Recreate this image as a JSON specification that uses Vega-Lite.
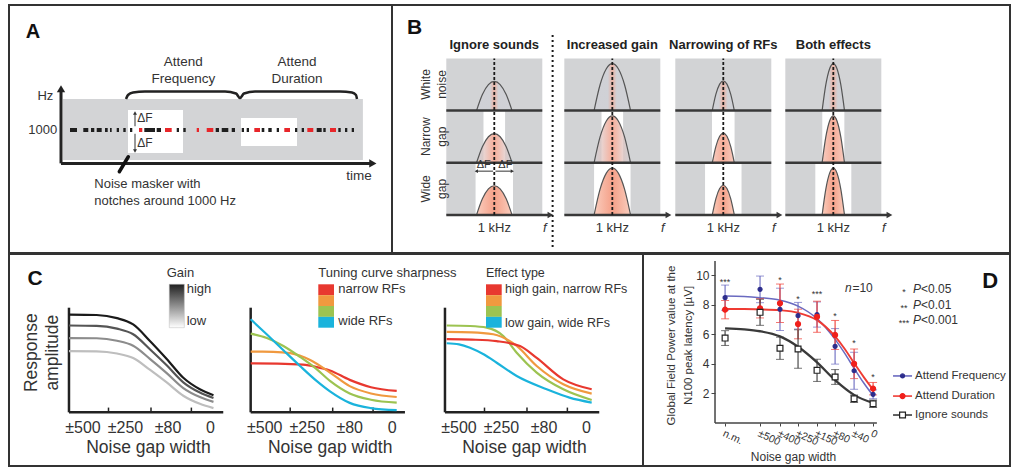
{
"$schema":"https://vega.github.io/schema/vega-lite/v6.json",
"padding":{"left":8,"top":4,"right":0,"bottom":1},
"background":"#ffffff",
"config":{"font":"Liberation Sans","view":{"stroke":"#333333","strokeWidth":2},"text":{"color":"#333333"}},
"datasets":{
"aRects":[{"k":"bg","t":14.1,"t2":92.4,"f":760,"f2":1248},{"k":"notch","t":31.07,"t2":45.43,"f":816,"f2":1160},{"k":"notch","t":60.57,"t2":75.2,"f":872,"f2":1096}],
"tones":[{"t":13.32,"t2":13.84,"f":1000,"k":"b"},{"t":15.93,"t2":17.75,"f":1000,"k":"b"},{"t":19.4,"t2":20.7,"f":1000,"k":"b"},{"t":21.41,"t2":22.27,"f":1000,"k":"b"},{"t":22.9,"t2":24.2,"f":1000,"k":"b"},{"t":25.07,"t2":25.77,"f":1000,"k":"b"},{"t":26.37,"t2":26.81,"f":1000,"k":"b"},{"t":28.12,"t2":28.72,"f":1000,"k":"b"},{"t":29.84,"t2":30.47,"f":1000,"k":"b"},{"t":31.59,"t2":32.19,"f":1000,"k":"b"},{"t":33.94,"t2":34.8,"f":1000,"k":"r"},{"t":35.33,"t2":38.12,"f":1000,"k":"b"},{"t":38.56,"t2":39.69,"f":1000,"k":"b"},{"t":40.73,"t2":42.48,"f":1000,"k":"r"},{"t":43.79,"t2":44.39,"f":1000,"k":"b"},{"t":45.51,"t2":46.14,"f":1000,"k":"b"},{"t":49.01,"t2":49.61,"f":1000,"k":"r"},{"t":51.62,"t2":53.34,"f":1000,"k":"r"},{"t":53.97,"t2":54.83,"f":1000,"k":"b"},{"t":55.54,"t2":57.26,"f":1000,"k":"b"},{"t":58.15,"t2":59.01,"f":1000,"k":"b"},{"t":60.76,"t2":61.36,"f":1000,"k":"b"},{"t":62.06,"t2":62.66,"f":1000,"k":"b"},{"t":64.05,"t2":65.54,"f":1000,"k":"r"},{"t":65.98,"t2":66.66,"f":1000,"k":"b"},{"t":67.7,"t2":68.59,"f":1000,"k":"b"},{"t":69.9,"t2":70.5,"f":1000,"k":"b"},{"t":71.88,"t2":73.37,"f":1000,"k":"r"},{"t":74.67,"t2":75.27,"f":1000,"k":"b"},{"t":76.42,"t2":77.02,"f":1000,"k":"b"},{"t":77.89,"t2":79.45,"f":1000,"k":"r"},{"t":80.34,"t2":81.64,"f":1000,"k":"b"},{"t":82.06,"t2":82.69,"f":1000,"k":"b"},{"t":83.81,"t2":85.38,"f":1000,"k":"r"},{"t":85.98,"t2":86.61,"f":1000,"k":"b"},{"t":87.73,"t2":88.33,"f":1000,"k":"b"},{"t":89.48,"t2":90.08,"f":1000,"k":"b"}],
"brace":[{"t":30.55,"f":1248},{"t":31.07,"f":1280},{"t":32.38,"f":1300},{"t":35.5,"f":1308},{"t":56.4,"f":1308},{"t":59.27,"f":1292},{"t":60.31,"f":1256},{"t":61.36,"f":1292},{"t":64.23,"f":1308},{"t":86.42,"f":1308},{"t":89.56,"f":1300},{"t":90.6,"f":1280},{"t":90.86,"f":1248}],
"aLines":[{"kind":"axis","t":13.58,"t2":13.58,"f":733,"f2":1325},{"kind":"axis","t":13.58,"t2":94.3,"f":733,"f2":733},{"kind":"df","t":32.9,"t2":32.9,"f":1030,"f2":1136},{"kind":"df","t":32.9,"t2":32.9,"f":832,"f2":970},{"kind":"pointer","t":28.8,"t2":31.15,"f":666,"f2":786}],
"aHeads":[{"kind":"up","t":13.58,"f":1330},{"kind":"right","t":95.0,"f":733},{"kind":"dfup","t":32.9,"f":1136},{"kind":"dfdown","t":32.9,"f":832}],
"aText":[{"grp":"left","t":22.27,"f":568,"label":"Noise masker with"},{"grp":"left","t":22.27,"f":432,"label":"notches around 1000 Hz"},{"grp":"center","t":45.51,"f":1542,"label":"Attend"},{"grp":"center","t":45.51,"f":1408,"label":"Frequency"},{"grp":"center","t":75.2,"f":1542,"label":"Attend"},{"grp":"center","t":75.2,"f":1408,"label":"Duration"},{"grp":"center","t":91.38,"f":634,"label":"time"},{"grp":"right","t":11.57,"f":1272,"label":"Hz"},{"grp":"right","t":12.61,"f":1000,"label":"1000"},{"grp":"df","t":33.5,"f":1100,"label":"ΔF"},{"grp":"df","t":33.5,"f":896,"label":"ΔF"},{"grp":"letter","t":6.27,"f":1786,"label":"A"}],
"bRects":[{"col":"ign","k":"bg","f":0,"f2":2,"v":0,"v2":3},{"col":"ign","k":"notch","f":0.775,"f2":1.225,"v":1,"v2":2},{"col":"ign","k":"notch","f":0.61,"f2":1.39,"v":0,"v2":1},{"col":"gain","k":"bg","f":0,"f2":2,"v":0,"v2":3},{"col":"gain","k":"notch","f":0.775,"f2":1.225,"v":1,"v2":2},{"col":"gain","k":"notch","f":0.62,"f2":1.38,"v":0,"v2":1},{"col":"nrf","k":"bg","f":0,"f2":2,"v":0,"v2":3},{"col":"nrf","k":"notch","f":0.765,"f2":1.235,"v":1,"v2":2},{"col":"nrf","k":"notch","f":0.62,"f2":1.38,"v":0,"v2":1},{"col":"both","k":"bg","f":0,"f2":2,"v":0,"v2":3},{"col":"both","k":"notch","f":0.77,"f2":1.23,"v":1,"v2":2},{"col":"both","k":"notch","f":0.625,"f2":1.375,"v":0,"v2":1}],
"bCurves":[
{"col":"ign","row":"white","f":0.63,"v":2},{"col":"ign","row":"white","f":0.752,"v":2.309},{"col":"ign","row":"white","f":0.878,"v":2.499},{"col":"ign","row":"white","f":1.0,"v":2.56},{"col":"ign","row":"white","f":1.122,"v":2.499},{"col":"ign","row":"white","f":1.248,"v":2.309},{"col":"ign","row":"white","f":1.37,"v":2},
{"col":"ign","row":"narrow","f":0.63,"v":1},{"col":"ign","row":"narrow","f":0.752,"v":1.309},{"col":"ign","row":"narrow","f":0.878,"v":1.499},{"col":"ign","row":"narrow","f":1.0,"v":1.56},{"col":"ign","row":"narrow","f":1.122,"v":1.499},{"col":"ign","row":"narrow","f":1.248,"v":1.309},{"col":"ign","row":"narrow","f":1.37,"v":1},
{"col":"ign","row":"wide","f":0.63,"v":0},{"col":"ign","row":"wide","f":0.752,"v":0.309},{"col":"ign","row":"wide","f":0.878,"v":0.499},{"col":"ign","row":"wide","f":1.0,"v":0.56},{"col":"ign","row":"wide","f":1.122,"v":0.499},{"col":"ign","row":"wide","f":1.248,"v":0.309},{"col":"ign","row":"wide","f":1.37,"v":0},
{"col":"gain","row":"white","f":0.62,"v":2},{"col":"gain","row":"white","f":0.745,"v":2.496},{"col":"gain","row":"white","f":0.875,"v":2.802},{"col":"gain","row":"white","f":1.0,"v":2.9},{"col":"gain","row":"white","f":1.125,"v":2.802},{"col":"gain","row":"white","f":1.255,"v":2.496},{"col":"gain","row":"white","f":1.38,"v":2},
{"col":"gain","row":"narrow","f":0.62,"v":1},{"col":"gain","row":"narrow","f":0.745,"v":1.496},{"col":"gain","row":"narrow","f":0.875,"v":1.802},{"col":"gain","row":"narrow","f":1.0,"v":1.9},{"col":"gain","row":"narrow","f":1.125,"v":1.802},{"col":"gain","row":"narrow","f":1.255,"v":1.496},{"col":"gain","row":"narrow","f":1.38,"v":1},
{"col":"gain","row":"wide","f":0.62,"v":0},{"col":"gain","row":"wide","f":0.745,"v":0.496},{"col":"gain","row":"wide","f":0.875,"v":0.802},{"col":"gain","row":"wide","f":1.0,"v":0.9},{"col":"gain","row":"wide","f":1.125,"v":0.802},{"col":"gain","row":"wide","f":1.255,"v":0.496},{"col":"gain","row":"wide","f":1.38,"v":0},
{"col":"nrf","row":"white","f":0.77,"v":2},{"col":"nrf","row":"white","f":0.846,"v":2.314},{"col":"nrf","row":"white","f":0.924,"v":2.508},{"col":"nrf","row":"white","f":1.0,"v":2.57},{"col":"nrf","row":"white","f":1.076,"v":2.508},{"col":"nrf","row":"white","f":1.154,"v":2.314},{"col":"nrf","row":"white","f":1.23,"v":2},
{"col":"nrf","row":"narrow","f":0.77,"v":1},{"col":"nrf","row":"narrow","f":0.846,"v":1.314},{"col":"nrf","row":"narrow","f":0.924,"v":1.508},{"col":"nrf","row":"narrow","f":1.0,"v":1.57},{"col":"nrf","row":"narrow","f":1.076,"v":1.508},{"col":"nrf","row":"narrow","f":1.154,"v":1.314},{"col":"nrf","row":"narrow","f":1.23,"v":1},
{"col":"nrf","row":"wide","f":0.77,"v":0},{"col":"nrf","row":"wide","f":0.846,"v":0.314},{"col":"nrf","row":"wide","f":0.924,"v":0.508},{"col":"nrf","row":"wide","f":1.0,"v":0.57},{"col":"nrf","row":"wide","f":1.076,"v":0.508},{"col":"nrf","row":"wide","f":1.154,"v":0.314},{"col":"nrf","row":"wide","f":1.23,"v":0},
{"col":"both","row":"white","f":0.767,"v":2},{"col":"both","row":"white","f":0.844,"v":2.496},{"col":"both","row":"white","f":0.923,"v":2.802},{"col":"both","row":"white","f":1.0,"v":2.9},{"col":"both","row":"white","f":1.077,"v":2.802},{"col":"both","row":"white","f":1.156,"v":2.496},{"col":"both","row":"white","f":1.233,"v":2},
{"col":"both","row":"narrow","f":0.767,"v":1},{"col":"both","row":"narrow","f":0.844,"v":1.496},{"col":"both","row":"narrow","f":0.923,"v":1.802},{"col":"both","row":"narrow","f":1.0,"v":1.9},{"col":"both","row":"narrow","f":1.077,"v":1.802},{"col":"both","row":"narrow","f":1.156,"v":1.496},{"col":"both","row":"narrow","f":1.233,"v":1},
{"col":"both","row":"wide","f":0.767,"v":0},{"col":"both","row":"wide","f":0.844,"v":0.496},{"col":"both","row":"wide","f":0.923,"v":0.802},{"col":"both","row":"wide","f":1.0,"v":0.9},{"col":"both","row":"wide","f":1.077,"v":0.802},{"col":"both","row":"wide","f":1.156,"v":0.496},{"col":"both","row":"wide","f":1.233,"v":0}],
"bLines":[{"f":0,"f2":2,"v":1},{"f":0,"f2":2,"v":2},{"f":0,"f2":2.12,"v":0}],
"bArrow":[{"f":2.17,"v":0}],
"bCenter":[{"f":1,"v":0,"v2":3}],
"bSep":[{"f":2.215,"v":-0.613,"v2":3.487}],
"bDF":[{"f":0.63,"f2":0.975,"v":0.84},{"f":1.025,"f2":1.37,"v":0.84}],
"bDFHeads":[{"k":"l","f":0.625,"v":0.84},{"k":"r","f":1.375,"v":0.84}],
"bText":[{"col":"ign","kind":"title","f":1,"v":3.25,"label":"Ignore sounds"},{"col":"gain","kind":"title","f":1,"v":3.25,"label":"Increased gain"},{"col":"nrf","kind":"title","f":1,"v":3.25,"label":"Narrowing of RFs"},{"col":"both","kind":"title","f":1,"v":3.25,"label":"Both effects"},{"col":"all","kind":"khz","f":1,"v":-0.25,"label":"1 kHz"},{"col":"all","kind":"fl","f":2.05,"v":-0.25,"label":"f"},{"col":"ign","kind":"letter","f":-0.66,"v":3.58,"label":"B"},{"col":"ign","kind":"rowlab","f":-0.423,"v":2.5,"label":["White","noise"]},{"col":"ign","kind":"rowlab","f":-0.423,"v":1.5,"label":["Narrow","gap"]},{"col":"ign","kind":"rowlab","f":-0.423,"v":0.5,"label":["Wide","gap"]},{"col":"ign","kind":"df","f":0.78,"v":0.96,"label":"ΔF"},{"col":"ign","kind":"df","f":1.23,"v":0.96,"label":"ΔF"}],
"cAxes":[{"kind":"ax","g":-0.33,"g2":-0.33,"a":0,"a2":1.0},{"kind":"ax","g":-0.33,"g2":3.3,"a":0,"a2":0},{"kind":"tk","g":0.6,"g2":0.6,"a":0,"a2":0.045},{"kind":"tk","g":1.6,"g2":1.6,"a":0,"a2":0.045},{"kind":"tk","g":2.55,"g2":2.55,"a":0,"a2":0.045}],
"cLabels":[{"kind":"tick","g":0,"a":-0.147,"label":"±500"},{"kind":"tick","g":1,"a":-0.147,"label":"±250"},{"kind":"tick","g":2,"a":-0.147,"label":"±80"},{"kind":"tick","g":3,"a":-0.147,"label":"0"},{"kind":"title","g":1.54,"a":-0.338,"label":"Noise gap width"}],
"cCurves":[
{"p":"S1","c":"g1","g":-0.33,"a":0.933},{"p":"S1","c":"g1","g":0.32,"a":0.93},{"p":"S1","c":"g1","g":0.8,"a":0.9},{"p":"S1","c":"g1","g":1.18,"a":0.84},{"p":"S1","c":"g1","g":1.58,"a":0.68},{"p":"S1","c":"g1","g":1.97,"a":0.51},{"p":"S1","c":"g1","g":2.36,"a":0.33},{"p":"S1","c":"g1","g":2.75,"a":0.22},{"p":"S1","c":"g1","g":3.07,"a":0.163},
{"p":"S1","c":"g2","g":-0.33,"a":0.83},{"p":"S1","c":"g2","g":0.32,"a":0.827},{"p":"S1","c":"g2","g":0.8,"a":0.8},{"p":"S1","c":"g2","g":1.18,"a":0.746},{"p":"S1","c":"g2","g":1.58,"a":0.601},{"p":"S1","c":"g2","g":1.97,"a":0.449},{"p":"S1","c":"g2","g":2.36,"a":0.287},{"p":"S1","c":"g2","g":2.75,"a":0.189},{"p":"S1","c":"g2","g":3.07,"a":0.137},
{"p":"S1","c":"g3","g":-0.33,"a":0.71},{"p":"S1","c":"g3","g":0.32,"a":0.708},{"p":"S1","c":"g3","g":0.8,"a":0.684},{"p":"S1","c":"g3","g":1.18,"a":0.636},{"p":"S1","c":"g3","g":1.58,"a":0.509},{"p":"S1","c":"g3","g":1.97,"a":0.375},{"p":"S1","c":"g3","g":2.36,"a":0.232},{"p":"S1","c":"g3","g":2.75,"a":0.146},{"p":"S1","c":"g3","g":3.07,"a":0.1},
{"p":"S1","c":"g4","g":-0.33,"a":0.585},{"p":"S1","c":"g4","g":0.32,"a":0.583},{"p":"S1","c":"g4","g":0.8,"a":0.562},{"p":"S1","c":"g4","g":1.18,"a":0.519},{"p":"S1","c":"g4","g":1.58,"a":0.405},{"p":"S1","c":"g4","g":1.97,"a":0.285},{"p":"S1","c":"g4","g":2.36,"a":0.158},{"p":"S1","c":"g4","g":2.75,"a":0.081},{"p":"S1","c":"g4","g":3.07,"a":0.04},
{"p":"S2","c":"red","g":-0.33,"a":0.468},{"p":"S2","c":"red","g":0.3,"a":0.466},{"p":"S2","c":"red","g":0.9,"a":0.455},{"p":"S2","c":"red","g":1.2,"a":0.435},{"p":"S2","c":"red","g":1.536,"a":0.4},{"p":"S2","c":"red","g":2.0,"a":0.31},{"p":"S2","c":"red","g":2.5,"a":0.24},{"p":"S2","c":"red","g":3.106,"a":0.204},
{"p":"S2","c":"orange","g":-0.33,"a":0.58},{"p":"S2","c":"orange","g":0.2,"a":0.578},{"p":"S2","c":"orange","g":0.6,"a":0.565},{"p":"S2","c":"orange","g":1.07,"a":0.5},{"p":"S2","c":"orange","g":1.536,"a":0.38},{"p":"S2","c":"orange","g":2.0,"a":0.25},{"p":"S2","c":"orange","g":2.5,"a":0.18},{"p":"S2","c":"orange","g":3.106,"a":0.146},
{"p":"S2","c":"green","g":-0.33,"a":0.752},{"p":"S2","c":"green","g":0.05,"a":0.71},{"p":"S2","c":"green","g":0.44,"a":0.634},{"p":"S2","c":"green","g":0.83,"a":0.53},{"p":"S2","c":"green","g":1.2,"a":0.42},{"p":"S2","c":"green","g":1.536,"a":0.3},{"p":"S2","c":"green","g":2.0,"a":0.18},{"p":"S2","c":"green","g":2.5,"a":0.12},{"p":"S2","c":"green","g":3.106,"a":0.092},
{"p":"S2","c":"cyan","g":-0.33,"a":0.889},{"p":"S2","c":"cyan","g":0.047,"a":0.746},{"p":"S2","c":"cyan","g":0.44,"a":0.593},{"p":"S2","c":"cyan","g":0.83,"a":0.443},{"p":"S2","c":"cyan","g":1.22,"a":0.3},{"p":"S2","c":"cyan","g":1.536,"a":0.2},{"p":"S2","c":"cyan","g":2.0,"a":0.09},{"p":"S2","c":"cyan","g":2.5,"a":0.04},{"p":"S2","c":"cyan","g":3.106,"a":0.02},
{"p":"S3","c":"cyan","g":-0.29,"a":0.66},{"p":"S3","c":"cyan","g":0.0,"a":0.65},{"p":"S3","c":"cyan","g":0.259,"a":0.618},{"p":"S3","c":"cyan","g":0.6,"a":0.55},{"p":"S3","c":"cyan","g":0.887,"a":0.474},{"p":"S3","c":"cyan","g":1.358,"a":0.347},{"p":"S3","c":"cyan","g":2.064,"a":0.22},{"p":"S3","c":"cyan","g":2.6,"a":0.14},{"p":"S3","c":"cyan","g":3.122,"a":0.092},
{"p":"S3","c":"green","g":-0.29,"a":0.83},{"p":"S3","c":"green","g":0.26,"a":0.825},{"p":"S3","c":"green","g":0.652,"a":0.81},{"p":"S3","c":"green","g":1.042,"a":0.73},{"p":"S3","c":"green","g":1.358,"a":0.57},{"p":"S3","c":"green","g":1.828,"a":0.38},{"p":"S3","c":"green","g":2.454,"a":0.22},{"p":"S3","c":"green","g":3.122,"a":0.118},
{"p":"S3","c":"orange","g":-0.29,"a":0.768},{"p":"S3","c":"orange","g":0.3,"a":0.765},{"p":"S3","c":"orange","g":0.807,"a":0.746},{"p":"S3","c":"orange","g":1.358,"a":0.634},{"p":"S3","c":"orange","g":1.828,"a":0.443},{"p":"S3","c":"orange","g":2.454,"a":0.268},{"p":"S3","c":"orange","g":3.122,"a":0.178},
{"p":"S3","c":"red","g":-0.29,"a":0.7},{"p":"S3","c":"red","g":0.3,"a":0.695},{"p":"S3","c":"red","g":0.887,"a":0.68},{"p":"S3","c":"red","g":1.435,"a":0.634},{"p":"S3","c":"red","g":1.828,"a":0.52},{"p":"S3","c":"red","g":2.454,"a":0.315},{"p":"S3","c":"red","g":3.122,"a":0.22}],
"cLeg":[{"p":"S1","kind":"grad","g":2.03,"g2":2.384,"a":0.809,"a2":1.224},{"p":"S1","kind":"ltext","g":1.97,"a":1.336,"label":"Gain"},{"p":"S1","kind":"ltext","g":2.44,"a":1.176,"label":"high"},{"p":"S1","kind":"ltext","g":2.44,"a":0.873,"label":"low"},{"p":"S1","kind":"letter","g":-1.13,"a":1.27,"label":"C"},{"p":"S1","kind":"ytitle","g":-1.207,"a":0.57,"label":["Response","amplitude"]},
{"p":"S2","kind":"bar","c":"red","g":1.261,"g2":1.631,"a":1.12,"a2":1.2237},{"p":"S2","kind":"bar","c":"orange","g":1.261,"g2":1.631,"a":1.0163,"a2":1.12},{"p":"S2","kind":"bar","c":"green","g":1.261,"g2":1.631,"a":0.9125,"a2":1.0163},{"p":"S2","kind":"bar","c":"cyan","g":1.261,"g2":1.631,"a":0.8088,"a2":0.9125},{"p":"S2","kind":"ltext","g":1.261,"a":1.336,"label":"Tuning curve sharpness"},{"p":"S2","kind":"ltext","g":1.732,"a":1.176,"label":"narrow RFs"},{"p":"S2","kind":"ltext","g":1.732,"a":0.873,"label":"wide RFs"},
{"p":"S3","kind":"bar","c":"red","g":0.635,"g2":1.005,"a":1.12,"a2":1.2237},{"p":"S3","kind":"bar","c":"orange","g":0.635,"g2":1.005,"a":1.0163,"a2":1.12},{"p":"S3","kind":"bar","c":"green","g":0.635,"g2":1.005,"a":0.9125,"a2":1.0163},{"p":"S3","kind":"bar","c":"cyan","g":0.635,"g2":1.005,"a":0.8088,"a2":0.9125},{"p":"S3","kind":"ltext","g":0.635,"a":1.336,"label":"Effect type"},{"p":"S3","kind":"ltext","g":1.082,"a":1.176,"label":"high gain, narrow RFs"},{"p":"S3","kind":"ltext","g":1.082,"a":0.857,"label":"low gain, wide RFs"}],
"dAxes":[{"pos":-0.53,"pos2":-0.53,"v":0,"v2":10.95},{"pos":-0.53,"pos2":7.99,"v":0,"v2":0}],
"dFit":[
{"series":"Attend Frequency","pos":0,"v":8.58},{"series":"Attend Frequency","pos":1,"v":8.55},{"series":"Attend Frequency","pos":1.84,"v":8.47},{"series":"Attend Frequency","pos":2.89,"v":8.3},{"series":"Attend Frequency","pos":3.84,"v":7.9},{"series":"Attend Frequency","pos":4.84,"v":7.05},{"series":"Attend Frequency","pos":5.79,"v":5.65},{"series":"Attend Frequency","pos":6.3,"v":4.7},{"series":"Attend Frequency","pos":6.79,"v":3.7},{"series":"Attend Frequency","pos":7.3,"v":2.7},{"series":"Attend Frequency","pos":7.79,"v":1.85},
{"series":"Attend Duration","pos":0,"v":7.7},{"series":"Attend Duration","pos":1,"v":7.7},{"series":"Attend Duration","pos":1.84,"v":7.68},{"series":"Attend Duration","pos":2.89,"v":7.62},{"series":"Attend Duration","pos":3.84,"v":7.45},{"series":"Attend Duration","pos":4.84,"v":6.95},{"series":"Attend Duration","pos":5.79,"v":5.85},{"series":"Attend Duration","pos":6.3,"v":5.0},{"series":"Attend Duration","pos":6.79,"v":4.05},{"series":"Attend Duration","pos":7.3,"v":3.1},{"series":"Attend Duration","pos":7.79,"v":2.25},
{"series":"Ignore sounds","pos":0,"v":6.4},{"series":"Ignore sounds","pos":1,"v":6.33},{"series":"Ignore sounds","pos":1.84,"v":6.2},{"series":"Ignore sounds","pos":2.89,"v":5.85},{"series":"Ignore sounds","pos":3.84,"v":5.15},{"series":"Ignore sounds","pos":4.84,"v":4.1},{"series":"Ignore sounds","pos":5.79,"v":2.9},{"series":"Ignore sounds","pos":6.79,"v":1.9},{"series":"Ignore sounds","pos":7.79,"v":1.35}],
"dPts":[
{"series":"Attend Frequency","pos":0,"v":8.47,"err":0.85},{"series":"Attend Frequency","pos":1.84,"v":9.03,"err":0.9},{"series":"Attend Frequency","pos":2.89,"v":7.68,"err":1.43},{"series":"Attend Frequency","pos":3.84,"v":7.25,"err":0.9},{"series":"Attend Frequency","pos":4.84,"v":7.33,"err":0.85},{"series":"Attend Frequency","pos":5.79,"v":5.18,"err":1.2},{"series":"Attend Frequency","pos":6.79,"v":3.53,"err":1.25},{"series":"Attend Frequency","pos":7.79,"v":1.94,"err":0.3},
{"series":"Attend Duration","pos":0,"v":7.66,"err":0.62},{"series":"Attend Duration","pos":1.84,"v":7.75,"err":0.65},{"series":"Attend Duration","pos":2.89,"v":8.09,"err":1.3},{"series":"Attend Duration","pos":3.84,"v":6.69,"err":1.0},{"series":"Attend Duration","pos":4.84,"v":7.18,"err":1.05},{"series":"Attend Duration","pos":5.79,"v":5.95,"err":0.98},{"series":"Attend Duration","pos":6.79,"v":4.0,"err":1.0},{"series":"Attend Duration","pos":7.79,"v":2.32,"err":0.42},
{"series":"Ignore sounds","pos":0,"v":5.74,"err":0.5},{"series":"Ignore sounds","pos":1.84,"v":7.48,"err":0.88},{"series":"Ignore sounds","pos":2.89,"v":5.05,"err":0.75},{"series":"Ignore sounds","pos":3.84,"v":5.0,"err":1.3},{"series":"Ignore sounds","pos":4.84,"v":3.56,"err":0.75},{"series":"Ignore sounds","pos":5.79,"v":3.11,"err":0.5},{"series":"Ignore sounds","pos":6.79,"v":1.64,"err":0.25},{"series":"Ignore sounds","pos":7.79,"v":1.3,"err":0.25}],
"dLeg":[{"series":"Attend Frequency","pos":8.84,"pos2":9.84,"sym":9.34,"tx":10.0,"v":3.18},{"series":"Attend Duration","pos":8.84,"pos2":9.84,"sym":9.34,"tx":10.0,"v":1.82},{"series":"Ignore sounds","pos":8.84,"pos2":9.84,"sym":9.34,"tx":10.0,"v":0.54}],
"dLegSym":[{"series":"Attend Frequency","pos":9.34,"v":3.18},{"series":"Attend Duration","pos":9.34,"v":1.82},{"series":"Ignore sounds","pos":9.34,"v":0.54}],
"dText":[{"kind":"star","pos":0,"v":9.75,"label":"***"},{"kind":"star","pos":2.89,"v":9.85,"label":"*"},{"kind":"star","pos":3.84,"v":8.6,"label":"*"},{"kind":"star","pos":4.84,"v":8.9,"label":"***"},{"kind":"star","pos":5.79,"v":7.4,"label":"*"},{"kind":"star","pos":6.79,"v":5.6,"label":"*"},{"kind":"star","pos":7.79,"v":3.3,"label":"*"},
{"kind":"star","pos":9.42,"v":9.05,"label":"*"},{"kind":"star","pos":9.42,"v":7.97,"label":"**"},{"kind":"star","pos":9.42,"v":6.96,"label":"***"},
{"kind":"P","pos":9.89,"v":9.05,"label":"P"},{"kind":"P","pos":9.89,"v":7.97,"label":"P"},{"kind":"P","pos":9.89,"v":6.96,"label":"P"},
{"kind":"val","pos":10.31,"v":9.05,"label":"<0.05"},{"kind":"val","pos":10.31,"v":7.97,"label":"<0.01"},{"kind":"val","pos":10.31,"v":6.96,"label":"<0.001"},
{"kind":"n","pos":6.66,"v":9.12,"label":"n"},{"kind":"val","pos":6.7,"v":9.12,"label":"=10"},{"kind":"letter","pos":13.95,"v":9.6,"label":"D"},
{"kind":"leg","pos":10.0,"v":3.18,"label":"Attend Frequency"},{"kind":"leg","pos":10.0,"v":1.82,"label":"Attend Duration"},{"kind":"leg","pos":10.0,"v":0.54,"label":"Ignore sounds"}]
},
"spacing":-2,
"bounds":"full",
"resolve":{"scale":{"color":"independent","shape":"independent","fill":"independent","stroke":"independent","size":"independent","strokeWidth":"independent"}},
"vconcat":[
{"spacing":0,"bounds":"flush",
"resolve":{"scale":{"color":"independent","shape":"independent","fill":"independent","stroke":"independent","size":"independent","strokeWidth":"independent"}},
"hconcat":[
{"width":383,"height":248,
"encoding":{"x":{"field":"t","type":"quantitative","scale":{"domain":[0,100],"nice":false,"zero":false},"axis":null},"y":{"field":"f","type":"quantitative","scale":{"domain":[16,2000],"nice":false,"zero":false},"axis":null}},
"layer":[
{"data":{"name":"aRects"},"mark":{"type":"rect"},"encoding":{"x2":{"field":"t2"},"y2":{"field":"f2"},"color":{"field":"k","type":"nominal","scale":{"domain":["bg","notch","b","r"],"range":["#d3d4d6","#ffffff","#1e1e1e","#e8262a"]},"legend":null}}},
{"data":{"name":"tones"},"mark":{"type":"rule","strokeWidth":4,"strokeCap":"butt"},"encoding":{"x2":{"field":"t2"},"color":{"field":"k","type":"nominal","scale":{"domain":["bg","notch","b","r"],"range":["#d3d4d6","#ffffff","#1e1e1e","#e8262a"]},"legend":null}}},
{"data":{"name":"aLines"},"transform":[{"filter":"datum.kind === 'axis'"}],"mark":{"type":"rule","strokeWidth":3,"color":"#222222"},"encoding":{"x2":{"field":"t2"},"y2":{"field":"f2"}}},
{"data":{"name":"aLines"},"transform":[{"filter":"datum.kind === 'pointer'"}],"mark":{"type":"rule","strokeWidth":3.5,"color":"#111111","strokeCap":"round"},"encoding":{"x2":{"field":"t2"},"y2":{"field":"f2"}}},
{"data":{"name":"aLines"},"transform":[{"filter":"datum.kind === 'df'"}],"mark":{"type":"rule","strokeWidth":1,"color":"#333333"},"encoding":{"x2":{"field":"t2"},"y2":{"field":"f2"}}},
{"data":{"name":"aHeads"},"transform":[{"filter":"datum.kind === 'up' || datum.kind === 'right'"}],"mark":{"type":"point","filled":true,"size":70,"color":"#222222","opacity":1},"encoding":{"shape":{"field":"kind","type":"nominal","scale":{"domain":["up","right","dfup","dfdown"],"range":["triangle-up","triangle-right","triangle-up","triangle-down"]},"legend":null}}},
{"data":{"name":"aHeads"},"transform":[{"filter":"datum.kind === 'dfup' || datum.kind === 'dfdown'"}],"mark":{"type":"point","filled":true,"size":16,"color":"#333333","opacity":1},"encoding":{"shape":{"field":"kind","type":"nominal","scale":{"domain":["up","right","dfup","dfdown"],"range":["triangle-up","triangle-right","triangle-up","triangle-down"]},"legend":null}}},
{"data":{"name":"brace"},"mark":{"type":"line","strokeWidth":2.5,"color":"#222222","interpolate":"monotone"},"encoding":{}},
{"data":{"name":"aText"},"transform":[{"filter":"datum.grp === 'left'"}],"mark":{"type":"text","align":"left","baseline":"middle","fontSize":13},"encoding":{"text":{"field":"label"}}},
{"data":{"name":"aText"},"transform":[{"filter":"datum.grp === 'center'"}],"mark":{"type":"text","align":"center","baseline":"middle","fontSize":13.5},"encoding":{"text":{"field":"label"}}},
{"data":{"name":"aText"},"transform":[{"filter":"datum.grp === 'right'"}],"mark":{"type":"text","align":"right","baseline":"middle","fontSize":13},"encoding":{"text":{"field":"label"}}},
{"data":{"name":"aText"},"transform":[{"filter":"datum.grp === 'df'"}],"mark":{"type":"text","align":"left","baseline":"middle","fontSize":12},"encoding":{"text":{"field":"label"}}},
{"data":{"name":"aText"},"transform":[{"filter":"datum.grp === 'letter'"}],"mark":{"type":"text","align":"center","baseline":"middle","fontSize":20,"fontWeight":"bold","color":"#111111"},"encoding":{"text":{"field":"label"}}}
]},
{"width":618,"height":248,
"encoding":{"y":{"field":"v","type":"quantitative","scale":{"domain":[-0.728,4.023],"nice":false,"zero":false},"axis":null}},
"resolve":{"scale":{"x":"independent"}},
"layer":[
{"encoding":{"x":{"field":"f","type":"quantitative","scale":{"domain":[-1.131,11.744],"nice":false,"zero":false},"axis":null}},
"layer":[
{"data":{"name":"bRects"},"transform":[{"filter":"datum.col === 'ign'"}],"mark":{"type":"rect"},"encoding":{"x2":{"field":"f2"},"y2":{"field":"v2"},"color":{"field":"k","type":"nominal","scale":{"domain":["bg","notch"],"range":["#d2d3d5","#ffffff"]},"legend":null}}},
{"data":{"name":"bCurves"},"transform":[{"filter":"datum.col === 'ign' && datum.row === 'white'"}],"mark":{"type":"area","interpolate":"monotone","fill":{"gradient":"linear","x1":0,"y1":0,"x2":1,"y2":0,"stops":[{"offset":0,"color":"#cfd0d6"},{"offset":0.38,"color":"#cfd0d6"},{"offset":0.5,"color":"#f4a28c"},{"offset":0.62,"color":"#cfd0d6"},{"offset":1,"color":"#cfd0d6"}]},"line":{"color":"#555555","strokeWidth":1.2}},"encoding":{"y2":{"datum":2}}},
{"data":{"name":"bCurves"},"transform":[{"filter":"datum.col === 'ign' && datum.row === 'narrow'"}],"mark":{"type":"area","interpolate":"monotone","fill":{"gradient":"linear","x1":0,"y1":0,"x2":1,"y2":0,"stops":[{"offset":0,"color":"#cfd0d6"},{"offset":0.2,"color":"#dfc3bf"},{"offset":0.5,"color":"#f28a6e"},{"offset":0.8,"color":"#dfc3bf"},{"offset":1,"color":"#cfd0d6"}]},"line":{"color":"#555555","strokeWidth":1.2}},"encoding":{"y2":{"datum":1}}},
{"data":{"name":"bCurves"},"transform":[{"filter":"datum.col === 'ign' && datum.row === 'wide'"}],"mark":{"type":"area","interpolate":"monotone","fill":{"gradient":"linear","x1":0,"y1":0,"x2":1,"y2":0,"stops":[{"offset":0,"color":"#f7b8a2"},{"offset":0.5,"color":"#f07856"},{"offset":1,"color":"#f7b8a2"}]},"line":{"color":"#555555","strokeWidth":1.2}},"encoding":{"y2":{"datum":0}}},
{"data":{"name":"bLines"},"mark":{"type":"rule","strokeWidth":2.5,"color":"#383838"},"encoding":{"x2":{"field":"f2"}}},
{"data":{"name":"bArrow"},"mark":{"type":"point","shape":"triangle-right","filled":true,"size":45,"color":"#383838","opacity":1},"encoding":{}},
{"data":{"name":"bCenter"},"mark":{"type":"rule","strokeWidth":1.8,"strokeDash":[3,2],"color":"#1a1a1a"},"encoding":{"y2":{"field":"v2"}}},
{"data":{"name":"bSep"},"mark":{"type":"rule","strokeWidth":2,"strokeDash":[2,3],"color":"#1a1a1a"},"encoding":{"y2":{"field":"v2"}}},
{"data":{"name":"bDF"},"mark":{"type":"rule","strokeWidth":1,"color":"#333333"},"encoding":{"x2":{"field":"f2"}}},
{"data":{"name":"bDFHeads"},"mark":{"type":"point","filled":true,"size":14,"color":"#333333","opacity":1},"encoding":{"shape":{"field":"k","type":"nominal","scale":{"domain":["l","r"],"range":["triangle-left","triangle-right"]},"legend":null}}},
{"data":{"name":"bText"},"transform":[{"filter":"datum.col === 'ign' && datum.kind === 'title'"}],"mark":{"type":"text","fontSize":13,"fontWeight":"bold","baseline":"middle","color":"#222222"},"encoding":{"text":{"field":"label"}}},
{"data":{"name":"bText"},"transform":[{"filter":"datum.kind === 'letter'"}],"mark":{"type":"text","fontSize":21,"fontWeight":"bold","baseline":"middle","color":"#111111"},"encoding":{"text":{"field":"label"}}},
{"data":{"name":"bText"},"transform":[{"filter":"datum.kind === 'rowlab'"}],"mark":{"type":"text","fontSize":12,"angle":270,"align":"center","baseline":"middle","lineHeight":16},"encoding":{"text":{"field":"label"}}},
{"data":{"name":"bText"},"transform":[{"filter":"datum.kind === 'df'"}],"mark":{"type":"text","fontSize":11,"baseline":"middle"},"encoding":{"text":{"field":"label"}}},
{"data":{"name":"bText"},"transform":[{"filter":"datum.kind === 'khz'"}],"mark":{"type":"text","fontSize":13,"baseline":"middle"},"encoding":{"text":{"field":"label"}}},
{"data":{"name":"bText"},"transform":[{"filter":"datum.kind === 'fl'"}],"mark":{"type":"text","fontSize":13,"fontStyle":"italic","baseline":"middle"},"encoding":{"text":{"field":"label"}}}
]},
{"encoding":{"x":{"field":"f","type":"quantitative","scale":{"domain":[-3.59,9.285],"nice":false,"zero":false},"axis":null}},
"layer":[
{"data":{"name":"bRects"},"transform":[{"filter":"datum.col === 'gain'"}],"mark":{"type":"rect"},"encoding":{"x2":{"field":"f2"},"y2":{"field":"v2"},"color":{"field":"k","type":"nominal","scale":{"domain":["bg","notch"],"range":["#d2d3d5","#ffffff"]},"legend":null}}},
{"data":{"name":"bCurves"},"transform":[{"filter":"datum.col === 'gain' && datum.row === 'white'"}],"mark":{"type":"area","interpolate":"monotone","fill":{"gradient":"linear","x1":0,"y1":0,"x2":1,"y2":0,"stops":[{"offset":0,"color":"#cfd0d6"},{"offset":0.38,"color":"#cfd0d6"},{"offset":0.5,"color":"#f4a28c"},{"offset":0.62,"color":"#cfd0d6"},{"offset":1,"color":"#cfd0d6"}]},"line":{"color":"#555555","strokeWidth":1.2}},"encoding":{"y2":{"datum":2}}},
{"data":{"name":"bCurves"},"transform":[{"filter":"datum.col === 'gain' && datum.row === 'narrow'"}],"mark":{"type":"area","interpolate":"monotone","fill":{"gradient":"linear","x1":0,"y1":0,"x2":1,"y2":0,"stops":[{"offset":0,"color":"#cfd0d6"},{"offset":0.2,"color":"#dfc3bf"},{"offset":0.5,"color":"#f28a6e"},{"offset":0.8,"color":"#dfc3bf"},{"offset":1,"color":"#cfd0d6"}]},"line":{"color":"#555555","strokeWidth":1.2}},"encoding":{"y2":{"datum":1}}},
{"data":{"name":"bCurves"},"transform":[{"filter":"datum.col === 'gain' && datum.row === 'wide'"}],"mark":{"type":"area","interpolate":"monotone","fill":{"gradient":"linear","x1":0,"y1":0,"x2":1,"y2":0,"stops":[{"offset":0,"color":"#f7b8a2"},{"offset":0.5,"color":"#f07856"},{"offset":1,"color":"#f7b8a2"}]},"line":{"color":"#555555","strokeWidth":1.2}},"encoding":{"y2":{"datum":0}}},
{"data":{"name":"bLines"},"mark":{"type":"rule","strokeWidth":2.5,"color":"#383838"},"encoding":{"x2":{"field":"f2"}}},
{"data":{"name":"bArrow"},"mark":{"type":"point","shape":"triangle-right","filled":true,"size":45,"color":"#383838","opacity":1},"encoding":{}},
{"data":{"name":"bCenter"},"mark":{"type":"rule","strokeWidth":1.8,"strokeDash":[3,2],"color":"#1a1a1a"},"encoding":{"y2":{"field":"v2"}}},
{"data":{"name":"bText"},"transform":[{"filter":"datum.col === 'gain' && datum.kind === 'title'"}],"mark":{"type":"text","fontSize":13,"fontWeight":"bold","baseline":"middle","color":"#222222"},"encoding":{"text":{"field":"label"}}},
{"data":{"name":"bText"},"transform":[{"filter":"datum.kind === 'khz'"}],"mark":{"type":"text","fontSize":13,"baseline":"middle"},"encoding":{"text":{"field":"label"}}},
{"data":{"name":"bText"},"transform":[{"filter":"datum.kind === 'fl'"}],"mark":{"type":"text","fontSize":13,"fontStyle":"italic","baseline":"middle"},"encoding":{"text":{"field":"label"}}}
]},
{"encoding":{"x":{"field":"f","type":"quantitative","scale":{"domain":[-5.902,6.973],"nice":false,"zero":false},"axis":null}},
"layer":[
{"data":{"name":"bRects"},"transform":[{"filter":"datum.col === 'nrf'"}],"mark":{"type":"rect"},"encoding":{"x2":{"field":"f2"},"y2":{"field":"v2"},"color":{"field":"k","type":"nominal","scale":{"domain":["bg","notch"],"range":["#d2d3d5","#ffffff"]},"legend":null}}},
{"data":{"name":"bCurves"},"transform":[{"filter":"datum.col === 'nrf' && datum.row === 'white'"}],"mark":{"type":"area","interpolate":"monotone","fill":{"gradient":"linear","x1":0,"y1":0,"x2":1,"y2":0,"stops":[{"offset":0,"color":"#cfd0d6"},{"offset":0.3,"color":"#cfd0d6"},{"offset":0.5,"color":"#f4a28c"},{"offset":0.7,"color":"#cfd0d6"},{"offset":1,"color":"#cfd0d6"}]},"line":{"color":"#555555","strokeWidth":1.2}},"encoding":{"y2":{"datum":2}}},
{"data":{"name":"bCurves"},"transform":[{"filter":"datum.col === 'nrf' && datum.row === 'narrow'"}],"mark":{"type":"area","interpolate":"monotone","fill":{"gradient":"linear","x1":0,"y1":0,"x2":1,"y2":0,"stops":[{"offset":0,"color":"#f3b6a6"},{"offset":0.5,"color":"#f2886a"},{"offset":1,"color":"#f3b6a6"}]},"line":{"color":"#555555","strokeWidth":1.2}},"encoding":{"y2":{"datum":1}}},
{"data":{"name":"bCurves"},"transform":[{"filter":"datum.col === 'nrf' && datum.row === 'wide'"}],"mark":{"type":"area","interpolate":"monotone","fill":{"gradient":"linear","x1":0,"y1":0,"x2":1,"y2":0,"stops":[{"offset":0,"color":"#f7b8a2"},{"offset":0.5,"color":"#f07856"},{"offset":1,"color":"#f7b8a2"}]},"line":{"color":"#555555","strokeWidth":1.2}},"encoding":{"y2":{"datum":0}}},
{"data":{"name":"bLines"},"mark":{"type":"rule","strokeWidth":2.5,"color":"#383838"},"encoding":{"x2":{"field":"f2"}}},
{"data":{"name":"bArrow"},"mark":{"type":"point","shape":"triangle-right","filled":true,"size":45,"color":"#383838","opacity":1},"encoding":{}},
{"data":{"name":"bCenter"},"mark":{"type":"rule","strokeWidth":1.8,"strokeDash":[3,2],"color":"#1a1a1a"},"encoding":{"y2":{"field":"v2"}}},
{"data":{"name":"bText"},"transform":[{"filter":"datum.col === 'nrf' && datum.kind === 'title'"}],"mark":{"type":"text","fontSize":13,"fontWeight":"bold","baseline":"middle","color":"#222222"},"encoding":{"text":{"field":"label"}}},
{"data":{"name":"bText"},"transform":[{"filter":"datum.kind === 'khz'"}],"mark":{"type":"text","fontSize":13,"baseline":"middle"},"encoding":{"text":{"field":"label"}}},
{"data":{"name":"bText"},"transform":[{"filter":"datum.kind === 'fl'"}],"mark":{"type":"text","fontSize":13,"fontStyle":"italic","baseline":"middle"},"encoding":{"text":{"field":"label"}}}
]},
{"encoding":{"x":{"field":"f","type":"quantitative","scale":{"domain":[-8.194,4.681],"nice":false,"zero":false},"axis":null}},
"layer":[
{"data":{"name":"bRects"},"transform":[{"filter":"datum.col === 'both'"}],"mark":{"type":"rect"},"encoding":{"x2":{"field":"f2"},"y2":{"field":"v2"},"color":{"field":"k","type":"nominal","scale":{"domain":["bg","notch"],"range":["#d2d3d5","#ffffff"]},"legend":null}}},
{"data":{"name":"bCurves"},"transform":[{"filter":"datum.col === 'both' && datum.row === 'white'"}],"mark":{"type":"area","interpolate":"monotone","fill":{"gradient":"linear","x1":0,"y1":0,"x2":1,"y2":0,"stops":[{"offset":0,"color":"#cfd0d6"},{"offset":0.3,"color":"#cfd0d6"},{"offset":0.5,"color":"#f4a28c"},{"offset":0.7,"color":"#cfd0d6"},{"offset":1,"color":"#cfd0d6"}]},"line":{"color":"#555555","strokeWidth":1.2}},"encoding":{"y2":{"datum":2}}},
{"data":{"name":"bCurves"},"transform":[{"filter":"datum.col === 'both' && datum.row === 'narrow'"}],"mark":{"type":"area","interpolate":"monotone","fill":{"gradient":"linear","x1":0,"y1":0,"x2":1,"y2":0,"stops":[{"offset":0,"color":"#f3b6a6"},{"offset":0.5,"color":"#f2886a"},{"offset":1,"color":"#f3b6a6"}]},"line":{"color":"#555555","strokeWidth":1.2}},"encoding":{"y2":{"datum":1}}},
{"data":{"name":"bCurves"},"transform":[{"filter":"datum.col === 'both' && datum.row === 'wide'"}],"mark":{"type":"area","interpolate":"monotone","fill":{"gradient":"linear","x1":0,"y1":0,"x2":1,"y2":0,"stops":[{"offset":0,"color":"#f7b8a2"},{"offset":0.5,"color":"#f07856"},{"offset":1,"color":"#f7b8a2"}]},"line":{"color":"#555555","strokeWidth":1.2}},"encoding":{"y2":{"datum":0}}},
{"data":{"name":"bLines"},"mark":{"type":"rule","strokeWidth":2.5,"color":"#383838"},"encoding":{"x2":{"field":"f2"}}},
{"data":{"name":"bArrow"},"mark":{"type":"point","shape":"triangle-right","filled":true,"size":45,"color":"#383838","opacity":1},"encoding":{}},
{"data":{"name":"bCenter"},"mark":{"type":"rule","strokeWidth":1.8,"strokeDash":[3,2],"color":"#1a1a1a"},"encoding":{"y2":{"field":"v2"}}},
{"data":{"name":"bText"},"transform":[{"filter":"datum.col === 'both' && datum.kind === 'title'"}],"mark":{"type":"text","fontSize":13,"fontWeight":"bold","baseline":"middle","color":"#222222"},"encoding":{"text":{"field":"label"}}},
{"data":{"name":"bText"},"transform":[{"filter":"datum.kind === 'khz'"}],"mark":{"type":"text","fontSize":13,"baseline":"middle"},"encoding":{"text":{"field":"label"}}},
{"data":{"name":"bText"},"transform":[{"filter":"datum.kind === 'fl'"}],"mark":{"type":"text","fontSize":13,"fontStyle":"italic","baseline":"middle"},"encoding":{"text":{"field":"label"}}}
]}
]}
]},
{"spacing":0,"bounds":"flush",
"resolve":{"scale":{"color":"independent","shape":"independent","fill":"independent","stroke":"independent","size":"independent","strokeWidth":"independent"}},
"hconcat":[
{"width":634,"height":212,
"encoding":{"y":{"field":"a","type":"quantitative","scale":{"domain":[-0.5134,1.5134],"nice":false,"zero":false},"axis":null}},
"resolve":{"scale":{"x":"independent"}},
"layer":[
{"encoding":{"x":{"field":"g","type":"quantitative","scale":{"domain":[-1.7412,13.1765],"nice":false,"zero":false},"axis":null}},
"layer":[
{"data":{"name":"cAxes"},"transform":[{"filter":"datum.kind === 'ax'"}],"mark":{"type":"rule","strokeWidth":2.5,"color":"#222222"},"encoding":{"x2":{"field":"g2"},"y2":{"field":"a2"}}},
{"data":{"name":"cAxes"},"transform":[{"filter":"datum.kind === 'tk'"}],"mark":{"type":"rule","strokeWidth":1.5,"color":"#222222"},"encoding":{"x2":{"field":"g2"},"y2":{"field":"a2"}}},
{"data":{"name":"cCurves"},"transform":[{"filter":"datum.p === 'S1'"}],"mark":{"type":"line","strokeWidth":2.2,"interpolate":"monotone"},"encoding":{"color":{"field":"c","type":"nominal","scale":{"domain":["g1","g2","g3","g4","red","orange","green","cyan"],"range":["#1a1a1a","#555555","#8c8c8c","#bebebe","#e8382f","#f0993f","#9cc351","#1ab3dc"]},"legend":null}}},
{"data":{"name":"cLabels"},"transform":[{"filter":"datum.kind === 'tick'"}],"mark":{"type":"text","fontSize":16,"baseline":"middle"},"encoding":{"text":{"field":"label"}}},
{"data":{"name":"cLabels"},"transform":[{"filter":"datum.kind === 'title'"}],"mark":{"type":"text","fontSize":17.5,"baseline":"middle"},"encoding":{"text":{"field":"label"}}},
{"data":{"name":"cLeg"},"transform":[{"filter":"datum.p === 'S1' && datum.kind === 'grad'"}],"mark":{"type":"rect","stroke":"#bbbbbb","strokeWidth":0.5,"fill":{"gradient":"linear","x1":0,"y1":0,"x2":0,"y2":1,"stops":[{"offset":0,"color":"#202020"},{"offset":1,"color":"#ffffff"}]}},"encoding":{"x2":{"field":"g2"},"y2":{"field":"a2"}}},
{"data":{"name":"cLeg"},"transform":[{"filter":"datum.p === 'S1' && datum.kind === 'ltext'"}],"mark":{"type":"text","fontSize":13,"align":"left","baseline":"middle"},"encoding":{"text":{"field":"label"}}},
{"data":{"name":"cLeg"},"transform":[{"filter":"datum.kind === 'letter'"}],"mark":{"type":"text","fontSize":21,"fontWeight":"bold","baseline":"middle","color":"#111111"},"encoding":{"text":{"field":"label"}}},
{"data":{"name":"cLeg"},"transform":[{"filter":"datum.kind === 'ytitle'"}],"mark":{"type":"text","fontSize":17.5,"angle":270,"align":"center","baseline":"middle","lineHeight":21.6},"encoding":{"text":{"field":"label"}}}
]},
{"encoding":{"x":{"field":"g","type":"quantitative","scale":{"domain":[-6.0165,8.9012],"nice":false,"zero":false},"axis":null}},
"layer":[
{"data":{"name":"cAxes"},"transform":[{"filter":"datum.kind === 'ax'"}],"mark":{"type":"rule","strokeWidth":2.5,"color":"#222222"},"encoding":{"x2":{"field":"g2"},"y2":{"field":"a2"}}},
{"data":{"name":"cAxes"},"transform":[{"filter":"datum.kind === 'tk'"}],"mark":{"type":"rule","strokeWidth":1.5,"color":"#222222"},"encoding":{"x2":{"field":"g2"},"y2":{"field":"a2"}}},
{"data":{"name":"cCurves"},"transform":[{"filter":"datum.p === 'S2'"}],"mark":{"type":"line","strokeWidth":2.2,"interpolate":"monotone"},"encoding":{"color":{"field":"c","type":"nominal","scale":{"domain":["g1","g2","g3","g4","red","orange","green","cyan"],"range":["#1a1a1a","#555555","#8c8c8c","#bebebe","#e8382f","#f0993f","#9cc351","#1ab3dc"]},"legend":null}}},
{"data":{"name":"cLabels"},"transform":[{"filter":"datum.kind === 'tick'"}],"mark":{"type":"text","fontSize":16,"baseline":"middle"},"encoding":{"text":{"field":"label"}}},
{"data":{"name":"cLabels"},"transform":[{"filter":"datum.kind === 'title'"}],"mark":{"type":"text","fontSize":17.5,"baseline":"middle"},"encoding":{"text":{"field":"label"}}},
{"data":{"name":"cLeg"},"transform":[{"filter":"datum.p === 'S2' && datum.kind === 'bar'"}],"mark":{"type":"rect"},"encoding":{"x2":{"field":"g2"},"y2":{"field":"a2"},"color":{"field":"c","type":"nominal","scale":{"domain":["g1","g2","g3","g4","red","orange","green","cyan"],"range":["#1a1a1a","#555555","#8c8c8c","#bebebe","#e8382f","#f0993f","#9cc351","#1ab3dc"]},"legend":null}}},
{"data":{"name":"cLeg"},"transform":[{"filter":"datum.p === 'S2' && datum.kind === 'ltext'"}],"mark":{"type":"text","fontSize":13,"align":"left","baseline":"middle"},"encoding":{"text":{"field":"label"}}}
]},
{"encoding":{"x":{"field":"g","type":"quantitative","scale":{"domain":[-10.588,4.3294],"nice":false,"zero":false},"axis":null}},
"layer":[
{"data":{"name":"cAxes"},"transform":[{"filter":"datum.kind === 'ax'"}],"mark":{"type":"rule","strokeWidth":2.5,"color":"#222222"},"encoding":{"x2":{"field":"g2"},"y2":{"field":"a2"}}},
{"data":{"name":"cAxes"},"transform":[{"filter":"datum.kind === 'tk'"}],"mark":{"type":"rule","strokeWidth":1.5,"color":"#222222"},"encoding":{"x2":{"field":"g2"},"y2":{"field":"a2"}}},
{"data":{"name":"cCurves"},"transform":[{"filter":"datum.p === 'S3'"}],"mark":{"type":"line","strokeWidth":2.2,"interpolate":"monotone"},"encoding":{"color":{"field":"c","type":"nominal","scale":{"domain":["g1","g2","g3","g4","red","orange","green","cyan"],"range":["#1a1a1a","#555555","#8c8c8c","#bebebe","#e8382f","#f0993f","#9cc351","#1ab3dc"]},"legend":null}}},
{"data":{"name":"cLabels"},"transform":[{"filter":"datum.kind === 'tick'"}],"mark":{"type":"text","fontSize":16,"baseline":"middle"},"encoding":{"text":{"field":"label"}}},
{"data":{"name":"cLabels"},"transform":[{"filter":"datum.kind === 'title'"}],"mark":{"type":"text","fontSize":17.5,"baseline":"middle"},"encoding":{"text":{"field":"label"}}},
{"data":{"name":"cLeg"},"transform":[{"filter":"datum.p === 'S3' && datum.kind === 'bar'"}],"mark":{"type":"rect"},"encoding":{"x2":{"field":"g2"},"y2":{"field":"a2"},"color":{"field":"c","type":"nominal","scale":{"domain":["g1","g2","g3","g4","red","orange","green","cyan"],"range":["#1a1a1a","#555555","#8c8c8c","#bebebe","#e8382f","#f0993f","#9cc351","#1ab3dc"]},"legend":null}}},
{"data":{"name":"cLeg"},"transform":[{"filter":"datum.p === 'S3' && datum.kind === 'ltext'"}],"mark":{"type":"text","fontSize":12.5,"align":"left","baseline":"middle"},"encoding":{"text":{"field":"label"}}}
]}
]},
{"width":367,"height":212,
"encoding":{
"x":{"field":"pos","type":"quantitative","scale":{"domain":[-4.32,14.996],"nice":false,"zero":false},"axis":{"values":[0,1.84,2.89,3.84,4.84,5.79,6.79,7.79],"labelExpr":"datum.value < 0.5 ? 'n.m.' : datum.value < 2 ? '±500' : datum.value < 3 ? '±400' : datum.value < 4 ? '±250' : datum.value < 5 ? '±150' : datum.value < 6 ? '±80' : datum.value < 7 ? '±40' : '0'","offset":-43,"domain":false,"grid":false,"tickSize":3,"tickColor":"#444444","labelAngle":25,"labelAlign":"left","labelBaseline":"top","labelFontSize":10.5,"labelColor":"#333333","labelPadding":2,"labelOverlap":false,"labelFlush":false,"title":"Noise gap width","titleFontSize":12,"titleFontWeight":"normal","titleColor":"#333333","titleX":150,"titleY":33,"titleAlign":"center","titleBaseline":"middle"}},
"y":{"field":"v","type":"quantitative","scale":{"domain":[-2.905,11.42],"nice":false,"zero":false},"axis":{"values":[2,4,6,8,10],"offset":-72,"domain":false,"grid":false,"tickSize":4,"tickColor":"#444444","labelFontSize":12,"labelColor":"#333333","labelPadding":2,"title":["Global Field Power value at the","N100 peak latency [µV]"],"titleFontSize":11.5,"titleFontWeight":"normal","titleColor":"#333333","titleAngle":-90,"titleX":-50,"titleY":91,"titleAlign":"center","titleBaseline":"top","titleLineHeight":17}}},
"layer":[
{"data":{"name":"dAxes"},"mark":{"type":"rule","strokeWidth":1.5,"color":"#444444"},"encoding":{"x2":{"field":"pos2"},"y2":{"field":"v2"}}},
{"data":{"name":"dFit"},"mark":{"type":"line","interpolate":"monotone"},"encoding":{"color":{"field":"series","type":"nominal","scale":{"domain":["Attend Frequency","Attend Duration","Ignore sounds"],"range":["#6a6ac0","#ef3b33","#3a3a3a"]},"legend":null},"strokeWidth":{"field":"series","type":"ordinal","scale":{"domain":["Attend Frequency","Attend Duration","Ignore sounds"],"range":[1.5,2.3,1.2]},"legend":null}}},
{"data":{"name":"dLeg"},"mark":{"type":"rule","strokeWidth":1.6},"encoding":{"x2":{"field":"pos2"},"color":{"field":"series","type":"nominal","scale":{"domain":["Attend Frequency","Attend Duration","Ignore sounds"],"range":["#6a6ac0","#ef3b33","#3a3a3a"]},"legend":null}}},
{"data":{"name":"dPts"},"mark":{"type":"errorbar","ticks":{"size":8},"rule":{"strokeWidth":1.1}},"encoding":{"yError":{"field":"err"},"color":{"field":"series","type":"nominal","scale":{"domain":["Attend Frequency","Attend Duration","Ignore sounds"],"range":["#6a6ac0","#ef3b33","#3a3a3a"]},"legend":null}}},
{"data":{"name":"dPts"},"mark":{"type":"point","filled":true,"opacity":1,"strokeWidth":1.2},"encoding":{"shape":{"field":"series","type":"nominal","scale":{"domain":["Attend Frequency","Attend Duration","Ignore sounds"],"range":["circle","circle","square"]},"legend":null},"fill":{"field":"series","type":"nominal","scale":{"domain":["Attend Frequency","Attend Duration","Ignore sounds"],"range":["#2d2d8c","#f0201c","#ffffff"]},"legend":null},"stroke":{"field":"series","type":"nominal","scale":{"domain":["Attend Frequency","Attend Duration","Ignore sounds"],"range":["#2d2d8c","#f0201c","#222222"]},"legend":null},"size":{"field":"series","type":"ordinal","scale":{"domain":["Attend Frequency","Attend Duration","Ignore sounds"],"range":[16,34,18]},"legend":null}}},
{"data":{"name":"dLegSym"},"mark":{"type":"point","filled":true,"opacity":1,"strokeWidth":1.2},"encoding":{"shape":{"field":"series","type":"nominal","scale":{"domain":["Attend Frequency","Attend Duration","Ignore sounds"],"range":["circle","circle","square"]},"legend":null},"fill":{"field":"series","type":"nominal","scale":{"domain":["Attend Frequency","Attend Duration","Ignore sounds"],"range":["#2d2d8c","#f0201c","#ffffff"]},"legend":null},"stroke":{"field":"series","type":"nominal","scale":{"domain":["Attend Frequency","Attend Duration","Ignore sounds"],"range":["#2d2d8c","#f0201c","#222222"]},"legend":null},"size":{"field":"series","type":"ordinal","scale":{"domain":["Attend Frequency","Attend Duration","Ignore sounds"],"range":[16,34,18]},"legend":null}}},
{"data":{"name":"dText"},"transform":[{"filter":"datum.kind === 'star'"}],"mark":{"type":"text","fontSize":9,"baseline":"middle","dy":3},"encoding":{"text":{"field":"label"}}},
{"data":{"name":"dText"},"transform":[{"filter":"datum.kind === 'P'"}],"mark":{"type":"text","fontSize":12,"fontStyle":"italic","align":"left","baseline":"middle"},"encoding":{"text":{"field":"label"}}},
{"data":{"name":"dText"},"transform":[{"filter":"datum.kind === 'val'"}],"mark":{"type":"text","fontSize":12,"align":"left","baseline":"middle"},"encoding":{"text":{"field":"label"}}},
{"data":{"name":"dText"},"transform":[{"filter":"datum.kind === 'leg'"}],"mark":{"type":"text","fontSize":11.5,"align":"left","baseline":"middle"},"encoding":{"text":{"field":"label"}}},
{"data":{"name":"dText"},"transform":[{"filter":"datum.kind === 'n'"}],"mark":{"type":"text","fontSize":12,"fontStyle":"italic","align":"right","baseline":"middle"},"encoding":{"text":{"field":"label"}}},
{"data":{"name":"dText"},"transform":[{"filter":"datum.kind === 'letter'"}],"mark":{"type":"text","fontSize":22,"fontWeight":"bold","baseline":"middle","color":"#111111"},"encoding":{"text":{"field":"label"}}}
]}
]}
]
}
